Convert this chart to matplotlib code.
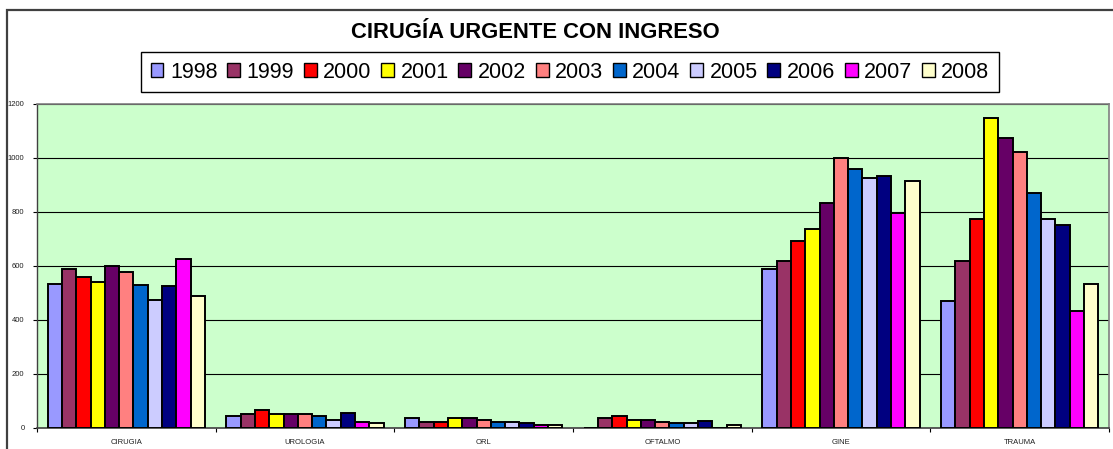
"""Cirugía urgente con ingreso: grouped bars by speciality and year."""

import matplotlib

matplotlib.use("Agg")
import matplotlib.pyplot as plt
import numpy as np
from matplotlib.patches import Patch, Rectangle

plt.rcParams["font.family"] = ["Liberation Sans", "DejaVu Sans"]

categories = ["CIRUGIA", "UROLOGIA", "ORL", "OFTALMO", "GINE", "TRAUMA"]
years = ["1998", "1999", "2000", "2001", "2002", "2003",
         "2004", "2005", "2006", "2007", "2008"]

v1998 = [531, 44, 36, 0, 588, 470]
v1999 = [589, 52, 21, 35, 617, 617]
v2000 = [559, 66, 21, 45, 691, 773]
v2001 = [538, 50, 36, 27, 736, 1146]
v2002 = [598, 51, 36, 29, 831, 1072]
v2003 = [575, 51, 29, 22, 999, 1022]
v2004 = [530, 45, 22, 16, 956, 868]
v2005 = [471, 29, 22, 16, 925, 773]
v2006 = [523, 54, 16, 24, 932, 749]
v2007 = [626, 22, 9, 0, 795, 433]
v2008 = [486, 16, 9, 9, 914, 531]
series = [v1998, v1999, v2000, v2001, v2002, v2003,
          v2004, v2005, v2006, v2007, v2008]

colors = ["#9999FF", "#993366", "#FF0000", "#FFFF00", "#660066", "#FF8080",
          "#0066CC", "#CCCCFF", "#000080", "#FF00FF", "#FFFFCC"]

W, H = 1113, 449
fig = plt.figure(figsize=(W / 100, H / 100), dpi=100)
ax = fig.add_axes([37 / W, 1 - 427.7 / H, 1072 / W, 324.2 / H])
ax.set_facecolor("#CCFFCC")

# outer chart frame
fig.patches.append(Rectangle((7 / W, -0.2), 1.2, 1.2 - 10 / H,
                             transform=fig.transFigure, fill=False,
                             edgecolor="#404040", linewidth=1.6, zorder=0))

bar_w = 0.08
start = 0.06
x = np.arange(len(categories))
for i, (vals, col, yr) in enumerate(zip(series, colors, years)):
    ax.bar(x + start + i * bar_w, vals, width=bar_w, align="edge",
           color=col, edgecolor="black", linewidth=1.4, label=yr, zorder=3)

ax.set_xlim(0, len(categories))
ax.set_ylim(0, 1200)
ax.set_yticks(np.arange(0, 1201, 200))
ax.yaxis.grid(True, color="black", linewidth=0.8, zorder=1)
ax.tick_params(axis="y", labelsize=5.5, length=3, width=0.8, pad=6,
               labelcolor="#202020")
ax.set_xticks(np.arange(len(categories) + 1))
ax.set_xticklabels([])
ax.set_xticks(x + 0.5, minor=True)
ax.set_xticklabels(categories, minor=True, fontsize=5.5, color="#202020")
ax.tick_params(axis="x", which="major", length=3, width=0.8)
ax.tick_params(axis="x", which="minor", length=0, pad=8)

for side in ["top", "right"]:
    ax.spines[side].set_color("#808080")
    ax.spines[side].set_linewidth(1.2)
ax.spines["left"].set_color("#404040")
ax.spines["bottom"].set_color("#404040")
ax.spines["left"].set_linewidth(1.0)
ax.spines["bottom"].set_linewidth(1.2)

fig.text(535 / W, 1 - 32 / H, "CIRUGÍA URGENTE CON INGRESO",
         ha="center", va="center", fontsize=15.8, fontweight="bold")

handles = [Patch(facecolor=c, edgecolor="black", linewidth=1.0) for c in colors]
leg = fig.legend(handles, years, loc="center", ncol=11,
                 bbox_to_anchor=(570 / W, 1 - 72 / H),
                 prop={"size": 15.5},
                 handlelength=0.6, handleheight=0.65, handletextpad=0.3,
                 columnspacing=0.45, borderpad=0.45, fancybox=False,
                 edgecolor="black", framealpha=1)
leg.get_frame().set_linewidth(1.0)

fig.savefig("out.png", dpi=100)
